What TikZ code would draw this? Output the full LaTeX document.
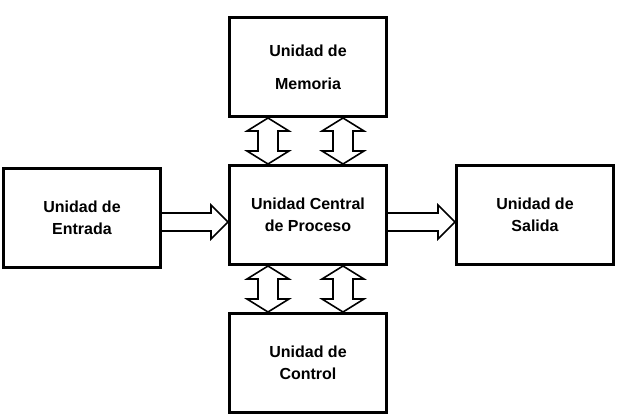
\documentclass[tikz,border=0pt]{standalone}
\usepackage{fontspec}
\setmainfont{Liberation Sans}
\usetikzlibrary{calc}
\begin{document}
\begin{tikzpicture}[x=1pt,y=-1pt,
  box/.style={draw,line width=3pt,minimum width=157pt,minimum height=99pt,inner sep=0pt,align=center,font=\bfseries\fontsize{16}{22}\selectfont},
  arr/.style={draw,line width=1.6pt,fill=white,line join=miter}]
\useasboundingbox (0,0) rectangle (618,420);
\node[box] (mem) at (308,67) {Unidad de\\[11pt]Memoria};
\node[box] (cpu) at (308,215) {Unidad Central\\de Proceso};
\node[box] (ctl) at (308,363) {Unidad de\\Control};
\node[box] (in) at (82,218) {Unidad de\\Entrada};
\node[box] (out) at (535,215) {Unidad de\\Salida};
% vertical double arrows
\foreach \xx in {268,343}{
  \foreach \a/\b in {mem/cpu,cpu/ctl}{
    \draw[arr] let \p1=(\a.south), \p2=(\b.north) in
      (\xx pt,\y1) -- (\xx pt+21pt,\y1-13pt) -- (\xx pt+10pt,\y1-13pt) -- (\xx pt+10pt,\y2+13pt) -- (\xx pt+21pt,\y2+13pt)
      -- (\xx pt,\y2) -- (\xx pt-21pt,\y2+13pt) -- (\xx pt-10pt,\y2+13pt) -- (\xx pt-10pt,\y1-13pt) -- (\xx pt-21pt,\y1-13pt) -- cycle;
  }
}
% horizontal arrows
\foreach \a/\b in {in/cpu,cpu/out}{
  \draw[arr] let \p1=(\a.east), \p2=(\b.west) in
    (\x1,-213pt) -- (\x2-17pt,-213pt) -- (\x2-17pt,-205pt) -- (\x2,-222pt) -- (\x2-17pt,-239pt) -- (\x2-17pt,-231pt) -- (\x1,-231pt);
}
\end{tikzpicture}
\end{document}
